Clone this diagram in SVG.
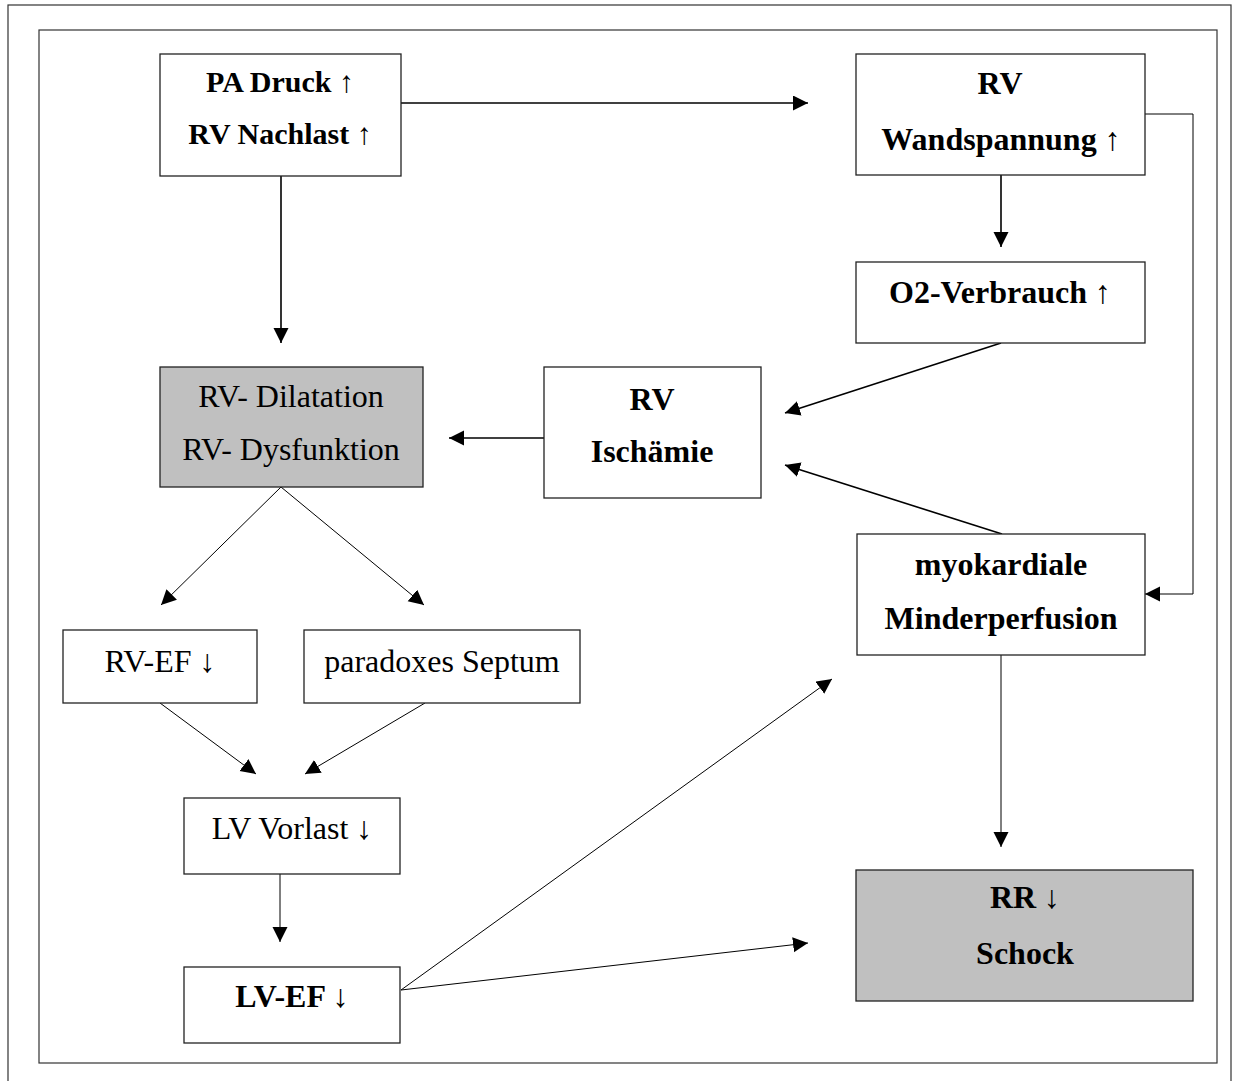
<svg xmlns="http://www.w3.org/2000/svg" width="1233" height="1081" viewBox="0 0 1233 1081">
<style>
.frame{fill:none;stroke:#333;stroke-width:1.2}
.box{fill:#fff;stroke:#222;stroke-width:1.3}
.gray{fill:#c0c0c0;stroke:#222;stroke-width:1.3}
.t{font-family:"Liberation Serif","Times New Roman",serif;font-size:32px;fill:#000;text-anchor:middle}
.b{font-weight:bold}
.c{fill:none;stroke:#000}
.thick{stroke-width:1.6}
.thin{stroke-width:1}
</style>
<defs>
<marker id="ah" markerUnits="userSpaceOnUse" markerWidth="16" markerHeight="16" refX="15" refY="7.5" orient="auto">
<path d="M0,0 L15,7.5 L0,15 z" fill="#000"/>
</marker>
</defs>
<rect x="0" y="0" width="1233" height="1081" fill="#fff"/>
<rect class="frame" x="8" y="5" width="1223" height="1090"/>
<rect class="frame" x="39" y="30" width="1178" height="1033"/>

<g id="connectors">
<line class="c thick" x1="401" y1="103" x2="808" y2="103" marker-end="url(#ah)"/>
<line class="c thick" x1="281" y1="174" x2="281" y2="343" marker-end="url(#ah)"/>
<line class="c thick" x1="1001" y1="175" x2="1001" y2="247" marker-end="url(#ah)"/>
<polyline class="c thin" points="1145,114 1193,114 1193,594 1145,594" marker-end="url(#ah)"/>
<line class="c thick" x1="1001" y1="343" x2="785" y2="413" marker-end="url(#ah)"/>
<line class="c thick" x1="1002" y1="534" x2="785" y2="465" marker-end="url(#ah)"/>
<line class="c thick" x1="544" y1="438" x2="449" y2="438" marker-end="url(#ah)"/>
<line class="c thin" x1="281" y1="487" x2="161" y2="605" marker-end="url(#ah)"/>
<line class="c thin" x1="281" y1="487" x2="424" y2="605" marker-end="url(#ah)"/>
<line class="c thin" x1="160" y1="703" x2="256" y2="774" marker-end="url(#ah)"/>
<line class="c thin" x1="425" y1="703" x2="305" y2="774" marker-end="url(#ah)"/>
<line class="c thin" x1="280" y1="870" x2="280" y2="942" marker-end="url(#ah)"/>
<line class="c thin" x1="401" y1="990" x2="832" y2="679" marker-end="url(#ah)"/>
<line class="c thin" x1="401" y1="990" x2="808" y2="943" marker-end="url(#ah)"/>
<line class="c thin" x1="1001" y1="655" x2="1001" y2="847" marker-end="url(#ah)"/>
</g>

<g id="pa">
<rect class="box" x="160" y="54" width="241" height="122"/>
<text class="t b" x="280" y="92" style="font-size:30px">PA Druck ↑</text>
<text class="t b" x="280" y="144" style="font-size:30px">RV Nachlast ↑</text>
</g>
<g id="wandspannung">
<rect class="box" x="856" y="54" width="289" height="121"/>
<text class="t b" x="1000" y="94">RV</text>
<text class="t b" x="1001" y="150">Wandspannung ↑</text>
</g>
<g id="o2">
<rect class="box" x="856" y="262" width="289" height="81"/>
<text class="t b" x="1000" y="303">O2-Verbrauch ↑</text>
</g>
<g id="ischaemie">
<rect class="box" x="544" y="367" width="217" height="131"/>
<text class="t b" x="652" y="410">RV</text>
<text class="t b" x="652" y="462">Ischämie</text>
</g>
<g id="dilatation">
<rect class="gray" x="160" y="367" width="263" height="120"/>
<text class="t" x="291" y="407">RV- Dilatation</text>
<text class="t" x="291" y="460">RV- Dysfunktion</text>
</g>
<g id="rvef">
<rect class="box" x="63" y="630" width="194" height="73"/>
<text class="t" x="160" y="672">RV-EF ↓</text>
</g>
<g id="septum">
<rect class="box" x="304" y="630" width="276" height="73"/>
<text class="t" x="442" y="672">paradoxes Septum</text>
</g>
<g id="vorlast">
<rect class="box" x="184" y="798" width="216" height="76"/>
<text class="t" x="292" y="839">LV Vorlast ↓</text>
</g>
<g id="lvef">
<rect class="box" x="184" y="967" width="216" height="76"/>
<text class="t b" x="292" y="1007">LV-EF ↓</text>
</g>
<g id="minderperfusion">
<rect class="box" x="857" y="534" width="288" height="121"/>
<text class="t b" x="1001" y="575">myokardiale</text>
<text class="t b" x="1001" y="629">Minderperfusion</text>
</g>
<g id="schock">
<rect class="gray" x="856" y="870" width="337" height="131"/>
<text class="t b" x="1025" y="908">RR ↓</text>
<text class="t b" x="1025" y="964">Schock</text>
</g>
</svg>
